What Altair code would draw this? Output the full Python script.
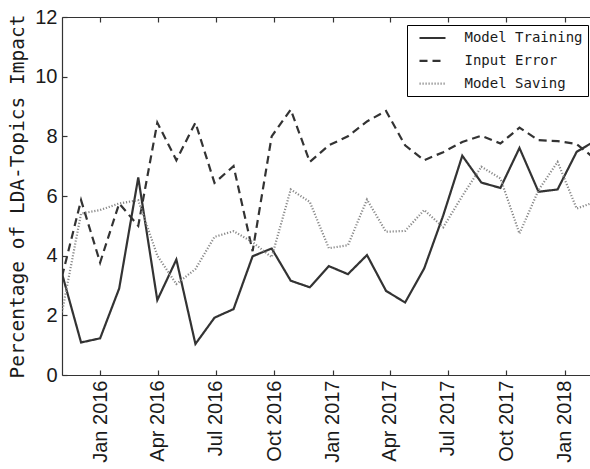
import altair as alt
import pandas as pd

# sampling dates (30-day steps, as read from the point positions)
DATES = [
    "2015-11-02", "2015-12-02", "2016-01-01", "2016-01-31", "2016-03-01",
    "2016-03-31", "2016-04-30", "2016-05-30", "2016-06-29", "2016-07-29",
    "2016-08-28", "2016-09-27", "2016-10-27", "2016-11-26", "2016-12-26",
    "2017-01-25", "2017-02-24", "2017-03-26", "2017-04-25", "2017-05-25",
    "2017-06-24", "2017-07-24", "2017-08-23", "2017-09-22", "2017-10-22",
    "2017-11-21", "2017-12-21", "2018-01-20", "2018-02-19",
]
MODEL_TRAINING = [3.4, 1.09, 1.23, 2.9, 6.62, 2.51, 3.87, 1.04, 1.92, 2.21,
                  3.98, 4.24, 3.16, 2.94, 3.65, 3.38, 4.02, 2.82, 2.43, 3.57,
                  5.35, 7.35, 6.45, 6.27, 7.61, 6.14, 6.22, 7.48, 7.86]
INPUT_ERROR = [3.3, 5.86, 3.77, 5.75, 5.0, 8.46, 7.2, 8.46, 6.44, 7.0,
               4.15, 8.0, 8.9, 7.14, 7.7, 8.0, 8.5, 8.85, 7.7, 7.2,
               7.47, 7.81, 8.02, 7.76, 8.29, 7.87, 7.84, 7.74, 7.23]
MODEL_SAVING = [2.1, 5.41, 5.53, 5.75, 5.86, 4.0, 3.05, 3.55, 4.63, 4.82,
                4.45, 3.95, 6.22, 5.8, 4.25, 4.35, 5.88, 4.8, 4.83, 5.53,
                4.95, 6.0, 6.98, 6.59, 4.74, 6.2, 7.14, 5.58, 5.81]
SERIES = ["Model Training", "Input Error", "Model Saving"]
Y_TICKS = [0, 2, 4, 6, 8, 10, 12]
X_TICKS = [(2016, 1), (2016, 4), (2016, 7), (2016, 10), (2017, 1),
           (2017, 4), (2017, 7), (2017, 10), (2018, 1)]

rows = []
for name, vals in zip(SERIES, [MODEL_TRAINING, INPUT_ERROR, MODEL_SAVING]):
    for d, v in zip(DATES, vals):
        rows.append({"date": d, "value": v, "series": name})
df = pd.DataFrame(rows)

x_vals = [alt.DateTime(year=y, month=m, date=1, utc=True) for y, m in X_TICKS]
x_scale = alt.Scale(type="utc", domain=[alt.DateTime(year=2015, month=11, date=2, utc=True),
                                        alt.DateTime(year=2018, month=2, date=10, utc=True)])
y_scale = alt.Scale(domain=[0, 12], nice=False, zero=False)

AX = "#333333"
LBL = "#1a1a1a"

legend = alt.Legend(
    title=None, orient="none", legendX=345, legendY=8,
    labelFont="DejaVu Sans Mono", labelFontSize=14, labelColor=LBL,
    symbolType="M-2,0H2", symbolSize=169, symbolOffset=12.5, labelOffset=24,
    padding=5, rowPadding=7.8, strokeColor="black", fillColor="white",
    cornerRadius=0,
)

lines = alt.Chart(df).mark_line(clip=True).encode(
    x=alt.X("date:T", scale=x_scale, title=None,
            axis=alt.Axis(orient="bottom", values=x_vals,
                          labelExpr="utcFormat(datum.value, '%b %Y')",
                          labelAngle=270, labelFont="Liberation Sans", labelFontSize=20,
                          labelColor=LBL, labelPadding=5, labelOverlap=False, labelFlush=False,
                          ticks=False, tickSize=0, domain=True, domainColor=AX,
                          domainWidth=1.2, grid=False)),
    y=alt.Y("value:Q", scale=y_scale,
            axis=alt.Axis(orient="left", values=Y_TICKS, title="Percentage of LDA-Topics Impact",
                          titleFont="DejaVu Sans Mono", titleFontSize=19.5, titleFontWeight="normal",
                          titleColor=LBL, titlePadding=7,
                          labelFont="Liberation Sans", labelFontSize=20, labelColor=LBL,
                          labelPadding=5, labelFlush=False, ticks=False, tickSize=0,
                          domain=True, domainColor=AX, domainWidth=1.2, grid=False)),
    color=alt.Color("series:N", sort=SERIES,
                    scale=alt.Scale(domain=SERIES, range=["#333333", "#333333", "#8a8a8a"]),
                    legend=legend),
    strokeDash=alt.StrokeDash("series:N", sort=SERIES,
                              scale=alt.Scale(domain=SERIES, range=[[1, 0], [8, 5], [1.2, 1.8]]),
                              legend=legend),
    strokeWidth=alt.StrokeWidth("series:N", sort=SERIES,
                                scale=alt.Scale(domain=SERIES, range=[2.2, 2.2, 1.6]),
                                legend=legend),
)

tick_axis = dict(domain=False, labels=False, ticks=True, tickSize=5, tickColor=AX,
                 tickWidth=1.2, grid=False, title=None, offset=-5)

ticks_bl = alt.Chart(df).mark_line(opacity=0).encode(
    x=alt.X("date:T", scale=x_scale, axis=alt.Axis(orient="bottom", values=x_vals, **tick_axis)),
    y=alt.Y("value:Q", scale=y_scale, axis=alt.Axis(orient="left", values=Y_TICKS, **tick_axis)),
)

top_line = alt.Chart(df).mark_line(opacity=0).encode(
    x=alt.X("date:T", scale=x_scale,
            axis=alt.Axis(orient="top", domain=True, domainColor=AX, domainWidth=1.2,
                          ticks=False, labels=False, grid=False, title=None)),
    y=alt.Y("value:Q", scale=y_scale, axis=None),
)

top_ticks = alt.Chart(df).mark_line(opacity=0).encode(
    x=alt.X("date:T", scale=x_scale, axis=alt.Axis(orient="top", values=x_vals, **tick_axis)),
    y=alt.Y("value:Q", scale=y_scale, axis=None),
)

chart = alt.layer(lines, ticks_bl, top_line, top_ticks).resolve_scale(
    x="shared", y="shared"
).resolve_axis(
    x="independent", y="independent"
).properties(
    width=528, height=358,
    padding={"left": 62, "top": 17, "right": 0, "bottom": 94},
    autosize=alt.AutoSizeParams(type="none"),
    background="white",
).configure_view(stroke=None)

chart.save("out.html", embed_options={"renderer": "svg", "actions": False})
